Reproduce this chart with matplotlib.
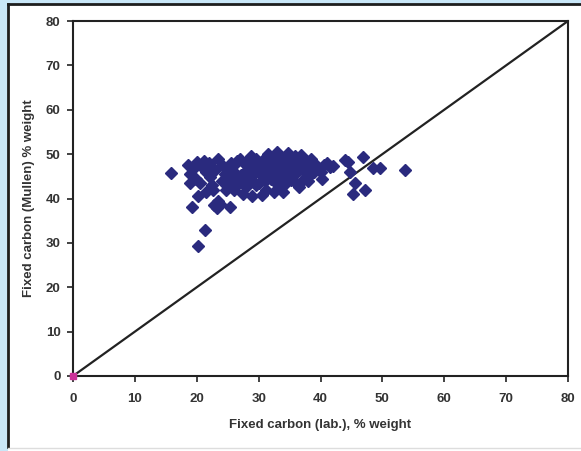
import matplotlib
matplotlib.use("Agg")
import matplotlib.pyplot as plt
from matplotlib.patches import Rectangle
from matplotlib.lines import Line2D

# fixed carbon: lab value (x) vs Mullen estimate (y), % weight
lab_fc = [15.9, 18.6, 18.9, 18.9, 19.2, 20.2, 21.3, 20.2, 20.0, 19.5, 20.8, 21.5, 22.1, 22.7, 22.8,
          23.3, 23.8, 23.4, 25.4, 23.5, 24.8, 24.0, 24.5, 25.2, 25.5, 26.4, 26.0, 26.8, 27.5, 27.2,
          27.8, 28.2, 28.5, 28.0, 29.0, 29.3, 29.6, 30.0, 30.2, 30.5, 30.8, 31.0, 31.2, 31.5, 31.8,
          32.0, 32.2, 32.5, 32.8, 33.0, 33.2, 33.5, 33.8, 34.0, 34.2, 34.5, 34.8, 35.0, 35.2, 35.5,
          35.8, 36.0, 36.3, 36.6, 37.0, 37.3, 37.8, 38.2, 38.5, 39.0, 39.5, 40.0, 40.5, 41.0, 42.0,
          36.5, 34.0, 32.5, 29.0, 30.5, 26.0, 25.0, 27.0, 28.8, 31.5, 33.0, 34.8, 32.0, 30.0, 28.0,
          26.5, 25.5, 23.0, 22.0, 21.2, 19.8, 35.5, 34.5, 33.5, 31.0, 29.5, 27.5, 36.0, 37.5, 38.0,
          39.0, 40.2, 38.5, 36.8, 35.0, 33.0, 31.5, 30.0, 28.5, 26.5, 24.0, 22.5, 21.5, 20.5,
          41.5, 43.9, 44.5, 46.9, 44.7, 48.5, 49.6, 53.6, 45.3, 47.2, 45.5]
mullen_fc = [45.8, 47.5, 45.5, 43.4, 38.1, 40.5, 32.9, 29.4, 48.3, 46.8, 47.0, 46.0, 44.9, 41.9, 38.5,
             37.8, 38.8, 39.5, 38.1, 49.0, 41.9, 47.5, 45.5, 47.0, 44.5, 47.9, 46.0, 43.5, 41.1, 45.2,
             48.0, 46.5, 44.0, 42.5, 47.2, 45.5, 49.0, 43.5, 46.8, 48.5, 45.0, 47.5, 42.0, 49.5, 46.2,
             44.5, 48.0, 47.0, 45.5, 49.8, 43.0, 48.5, 46.5, 47.8, 45.0, 49.0, 46.0, 48.2, 44.2, 47.2,
             49.5, 45.8, 48.0, 46.5, 47.5, 44.5, 48.5, 46.8, 45.5, 48.0, 47.0, 46.0, 47.5, 48.0, 47.3,
             42.5, 41.5, 41.5, 40.5, 40.8, 42.0, 43.0, 49.0, 49.5, 50.0, 50.5, 50.3, 48.8, 48.0, 47.5,
             48.5, 48.0, 46.5, 48.0, 48.5, 44.5, 45.5, 43.5, 44.5, 44.0, 43.0, 43.8, 43.5, 46.0, 44.0,
             46.0, 44.5, 49.0, 49.8, 46.8, 47.3, 45.8, 46.0, 45.5, 45.0, 44.0, 43.0, 41.5, 43.5,
             47.1, 48.6, 48.3, 49.4, 46.0, 46.8, 46.8, 46.5, 41.1, 41.9, 43.5]

line_xy = [0, 80]
ticks = [0, 10, 20, 30, 40, 50, 60, 70, 80]

plt.rcParams["font.family"] = ["Liberation Sans", "DejaVu Sans"]

fig = plt.figure(figsize=(5.81, 4.51), dpi=100, facecolor="#c9e7f8")

# white panel with dark top/left edge, faint grey line at the bottom
fig.patches.append(Rectangle((8 / 581, 0), 1, 447 / 451, transform=fig.transFigure,
                             facecolor="white", edgecolor="none", zorder=-10))
fig.lines.append(Line2D([8 / 581, 1], [447 / 451, 447 / 451], transform=fig.transFigure,
                        color="#1e1e1e", lw=2, zorder=-5))
fig.lines.append(Line2D([8 / 581, 8 / 581], [4 / 451, 447 / 451], transform=fig.transFigure,
                        color="#1e1e1e", lw=2, zorder=-5))
fig.lines.append(Line2D([8 / 581, 1], [3.5 / 451, 3.5 / 451], transform=fig.transFigure,
                        color="#dddddd", lw=1, zorder=-5))

ax = fig.add_axes([73 / 581, 75 / 451, 495 / 581, 355 / 451])
ax.set_zorder(1)
ax.plot(line_xy, line_xy, color="#222222", lw=1.6, zorder=2)
ax.plot(lab_fc, mullen_fc, "D", ms=5.8, color="#2a2a7e", mec="#2a2a7e", zorder=3)
ax.plot([0], [0], "s", ms=4, color="#cc3399", clip_on=False, zorder=4)

ax.set_xlim(0, 80)
ax.set_ylim(0, 80)
ax.set_xticks(ticks)
ax.set_yticks(ticks)
for s in ax.spines.values():
    s.set_linewidth(1.5)
    s.set_color("#222222")
ax.tick_params(length=4, width=1.2, colors="#222222", labelsize=9.5, labelcolor="#333333")
ax.tick_params(axis="x", pad=8)
ax.tick_params(axis="y", pad=5)
for lab in ax.get_xticklabels() + ax.get_yticklabels():
    lab.set_fontweight("bold")

ax.set_xlabel("Fixed carbon (lab.), % weight", fontsize=9.5, fontweight="bold", color="#333333", labelpad=10)
ax.set_ylabel("Fixed carbon (Mullen) % weight", fontsize=9.5, fontweight="bold", color="#333333", labelpad=8)

fig.savefig("out.png", dpi=100, facecolor=fig.get_facecolor())
